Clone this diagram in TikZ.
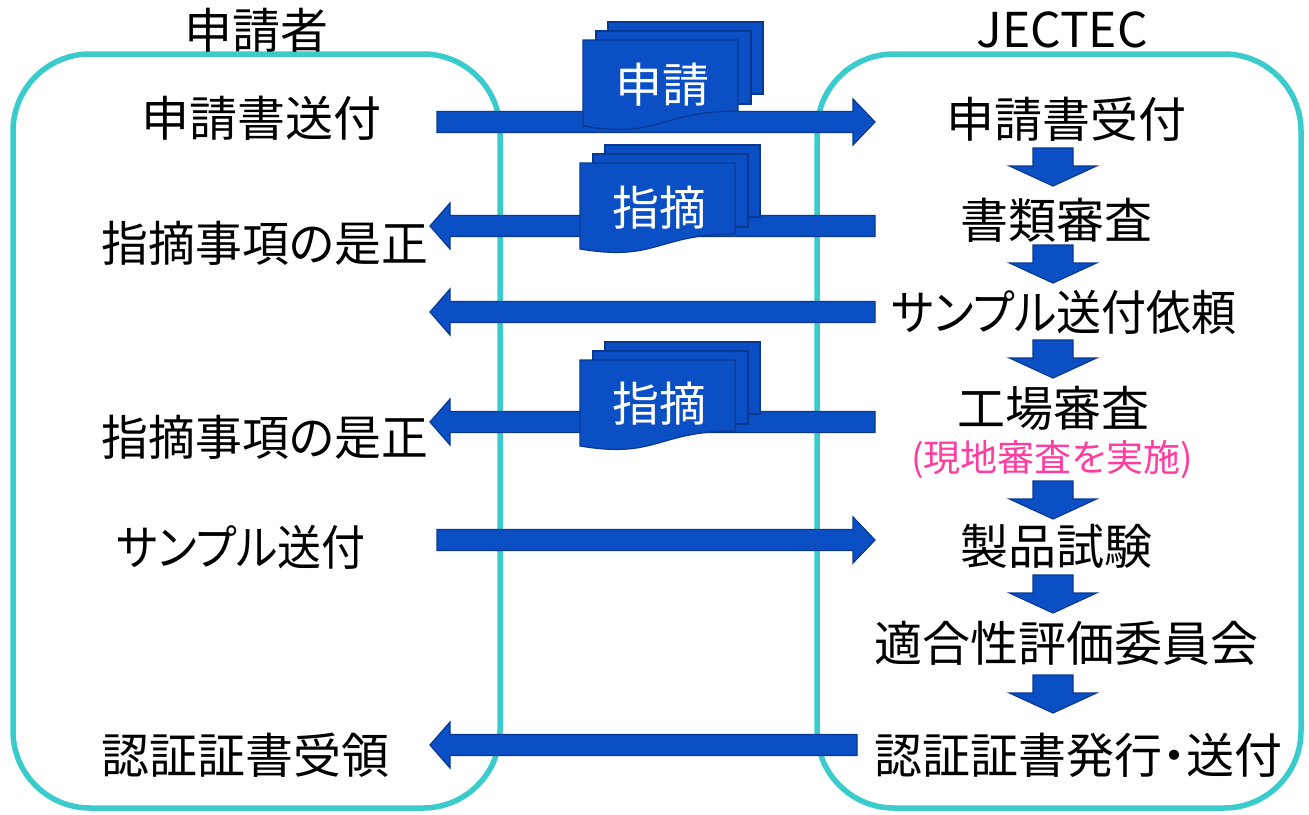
\documentclass[tikz,border=0pt]{standalone}
\usepackage{fontspec}
\setmainfont{Noto Sans CJK JP}[RawFeature=+palt]
\definecolor{laneC}{RGB}{58,204,204}
\definecolor{bfill}{RGB}{10,80,196}
\definecolor{bdraw}{RGB}{8,56,146}
\definecolor{pinkt}{RGB}{255,60,160}
\tikzset{
  lane/.style={draw=laneC, line width=5.5pt, rounded corners=77pt},
  lbl/.style={font=\fontsize{48}{52}\selectfont, inner sep=0pt, text=black},
  doclbl/.style={font=\fontsize{47}{52}\selectfont, inner sep=0pt, text=white},
  note/.style={font=\fontsize{37}{42}\selectfont, inner sep=0pt, text=pinkt},
  squeeze/.style={xscale=#1, transform shape},
  blk/.style={fill=bfill, draw=bdraw, line width=1.2pt, line join=miter},
  pics/rarr/.style={code={\path[blk] (0,-10.5) -- (#1-22,-10.5) -- (#1-22,-23) -- (#1,0) -- (#1-22,23) -- (#1-22,10.5) -- (0,10.5) -- cycle;}},
  pics/larr/.style={code={\path[blk] (0,0) -- (20,-23) -- (20,-10.5) -- (#1,-10.5) -- (#1,10.5) -- (20,10.5) -- (20,23) -- cycle;}},
  pics/darr/.style={code={\path[blk] (-20,0) -- (20,0) -- (20,18) -- (43.5,18) -- (0,38) -- (-43.5,18) -- (-20,18) -- cycle;}},
  pics/mdoc/.style={code={
    \path[blk] (25,-18) -- (180,-18) -- (180,54) -- (25,54) -- cycle;
    \path[blk] (13,-9) -- (168,-9) -- (168,64) -- (13,64) -- cycle;
    \path[blk] (0,0) -- (155,0) -- (155,71) .. controls (77,71) and (77,99) .. (0,86) -- cycle;
  }}
}
\begin{document}
\begin{tikzpicture}[x=1pt,y=-1pt]
\useasboundingbox (0,0) rectangle (1309,814);
\fill[white] (0,0) rectangle (1309,814);
% lanes
\draw[lane] (13,54) rectangle (500,808);
\draw[lane] (817,54) rectangle (1301,808);
% horizontal block arrows
\coordinate (h1) at (437,122);
\coordinate (h2) at (430,226);
\coordinate (h3) at (430,312);
\coordinate (h4) at (430,422);
\coordinate (h5) at (437,540);
\coordinate (h6) at (430,745);
\pic at (h1) {rarr=438};
\pic at (h2) {larr=445};
\pic at (h3) {larr=445};
\pic at (h4) {larr=445};
\pic at (h5) {rarr=438};
\pic at (h6) {larr=427};
% down arrows
\coordinate (d1) at (1053,148);
\coordinate (d2) at (1053,245);
\coordinate (d3) at (1053,340);
\coordinate (d4) at (1053,481);
\coordinate (d5) at (1053,575);
\coordinate (d6) at (1053,675);
\foreach \d in {d1,d2,d3,d4,d5,d6} {\pic at (\d) {darr};}
% documents
\coordinate (m1) at (583,40);
\coordinate (m2) at (580,163);
\coordinate (m3) at (580,360);
\pic at (m1) {mdoc};
\pic at (m2) {mdoc};
\pic at (m3) {mdoc};
\node[doclbl] (doc1) at (662,85) {申請};
\node[doclbl] (doc2) at (659,208) {指摘};
\node[doclbl] (doc3) at (659,404) {指摘};
% titles
\node[lbl] (tA) at (256,30) {申請者};
\node[lbl] (tB) at (1062,30) {JECTEC};
% left column
\node[lbl] (l1) at (261,118) {申請書送付};
\node[lbl, squeeze=0.976] (l2) at (265,243) {指摘事項の是正};
\node[lbl, squeeze=0.976] (l3) at (265,437) {指摘事項の是正};
\node[lbl, squeeze=0.915] (l4) at (241,547) {サンプル送付};
\node[lbl] (l5) at (245,755) {認証証書受領};
% right column
\node[lbl] (r1) at (1066,119) {申請書受付};
\node[lbl] (r2) at (1056,220) {書類審査};
\node[lbl, squeeze=0.937] (r3) at (1064,312) {サンプル送付依頼};
\node[lbl] (r4) at (1053,408) {工場審査};
\node[note] (r4b) at (1052,460) {(現地審査を実施)};
\node[lbl] (r5) at (1056,546) {製品試験};
\node[lbl] (r6) at (1066,643) {適合性評価委員会};
\node[lbl] (r7) at (1078,755) {認証証書発行・送付};
\end{tikzpicture}
\end{document}
